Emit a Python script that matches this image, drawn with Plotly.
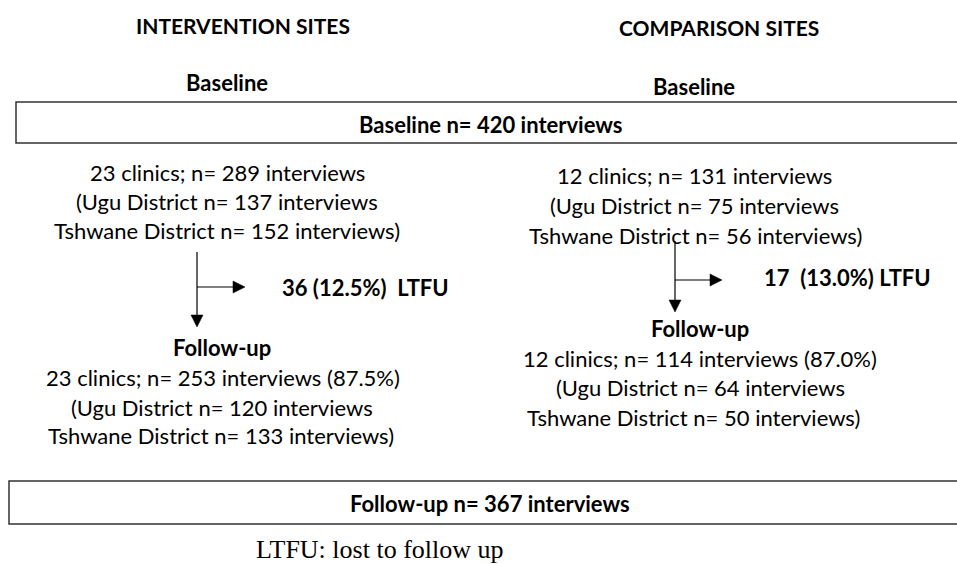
import plotly.graph_objects as go

# ---- data ----
sites = ["INTERVENTION SITES", "COMPARISON SITES"]
clinics = [23, 12]
baseline_n = [289, 131]
baseline_ugu = [137, 75]
baseline_tshwane = [152, 56]
followup_n = [253, 114]
followup_ugu = [120, 64]
followup_tshwane = [133, 50]
ltfu_n = [36, 17]
ltfu_pct = [12.5, 13.0]
retained_pct = [87.5, 87.0]
total_baseline = 420
total_followup = 367

W, H = 957, 564
FONT = "Lato"
BLACK = "#000000"
NB = "\u00a0"
REG = 22
BOLD = 22

fig = go.Figure()
fig.add_trace(go.Scatter(x=[0, W], y=[0, H], mode="markers",
                         marker=dict(opacity=0), hoverinfo="skip", showlegend=False))

ann = []
def txt(x, y, s, size=REG, bold=False, anchor="center", family=FONT):
    if bold:
        s = "<b>" + s + "</b>"
    ann.append(dict(x=x, y=y, xref="x", yref="y", text=s, showarrow=False,
                    xanchor=anchor, yanchor="middle",
                    font=dict(family=family, size=size, color=BLACK)))

col = [
    dict(site=(243, 25), base=(227, 82), lines_y=[172, 201, 230], lines_x=[227, 227, 227],
         fu=(222, 347), fu_y=[377, 407, 435], fu_x=[223, 222, 221],
         ltfu=(280, 287), vx=197, vy0=252, vy1=327, hy=287, hx1=245,
         ltfu_fmt="{n} ({p:.1f}%)" + NB + NB + "LTFU"),
    dict(site=(719, 27), base=(694, 86), lines_y=[175, 205, 235], lines_x=[694, 694, 695],
         fu=(700, 328), fu_y=[358, 387, 417], fu_x=[700, 700, 693],
         ltfu=(762, 277), vx=675, vy0=241, vy1=312, hy=280, hx1=722,
         ltfu_fmt="{n}" + NB + NB + "({p:.1f}%) LTFU"),
]

shapes = []
for i, c in enumerate(col):
    txt(*c["site"], sites[i], size=21, bold=True)
    txt(*c["base"], "Baseline", size=BOLD, bold=True)
    bl = [f"{clinics[i]} clinics; n= {baseline_n[i]} interviews",
          f"(Ugu District n= {baseline_ugu[i]} interviews",
          f"Tshwane District n= {baseline_tshwane[i]} interviews)"]
    for s, x, y in zip(bl, c["lines_x"], c["lines_y"]):
        txt(x, y, s)
    txt(*c["fu"], "Follow-up", size=BOLD, bold=True)
    fl = [f"{clinics[i]} clinics; n= {followup_n[i]} interviews ({retained_pct[i]:.1f}%)",
          f"(Ugu District n= {followup_ugu[i]} interviews",
          f"Tshwane District n= {followup_tshwane[i]} interviews)"]
    for s, x, y in zip(fl, c["fu_x"], c["fu_y"]):
        txt(x, y, s)
    txt(*c["ltfu"], c["ltfu_fmt"].format(n=ltfu_n[i], p=ltfu_pct[i]), size=BOLD, bold=True, anchor="left")

    vx, vy0, vy1, hy, hx1 = c["vx"], c["vy0"], c["vy1"], c["hy"], c["hx1"]
    ah = 12
    shapes.append(dict(type="line", xref="x", yref="y", x0=vx, x1=vx, y0=vy0, y1=vy1 - ah,
                       line=dict(color=BLACK, width=1.2)))
    shapes.append(dict(type="path", xref="x", yref="y",
                       path=f"M {vx-6},{vy1-ah} L {vx+6},{vy1-ah} L {vx},{vy1} Z",
                       fillcolor=BLACK, line=dict(color=BLACK, width=0.5)))
    shapes.append(dict(type="line", xref="x", yref="y", x0=vx, x1=hx1 - ah, y0=hy, y1=hy,
                       line=dict(color=BLACK, width=1.2)))
    shapes.append(dict(type="path", xref="x", yref="y",
                       path=f"M {hx1-ah},{hy-6} L {hx1-ah},{hy+6} L {hx1},{hy} Z",
                       fillcolor=BLACK, line=dict(color=BLACK, width=0.5)))

shapes.append(dict(type="rect", xref="x", yref="y", x0=16, x1=W + 10, y0=102, y1=143,
                   line=dict(color="#333333", width=1.5)))
shapes.append(dict(type="rect", xref="x", yref="y", x0=9, x1=W + 10, y0=481, y1=524,
                   line=dict(color="#333333", width=1.5)))
txt(490, 124, f"Baseline n= {total_baseline} interviews", size=BOLD, bold=True)
txt(490, 503, f"Follow-up n= {total_followup} interviews", size=BOLD, bold=True)
txt(380, 549, "LTFU: lost to follow up", size=26, family="Liberation Serif")

fig.update_layout(
    width=W, height=H, margin=dict(l=0, r=0, t=0, b=0),
    paper_bgcolor="white", plot_bgcolor="white",
    xaxis=dict(range=[0, W], visible=False, fixedrange=True),
    yaxis=dict(range=[H, 0], visible=False, fixedrange=True),
    annotations=ann, shapes=shapes, showlegend=False,
)
fig.write_html("out.html", config={"displayModeBar": False},
               post_script="document.body.style.margin='0';document.body.style.padding='0';document.body.style.overflow='hidden';")
